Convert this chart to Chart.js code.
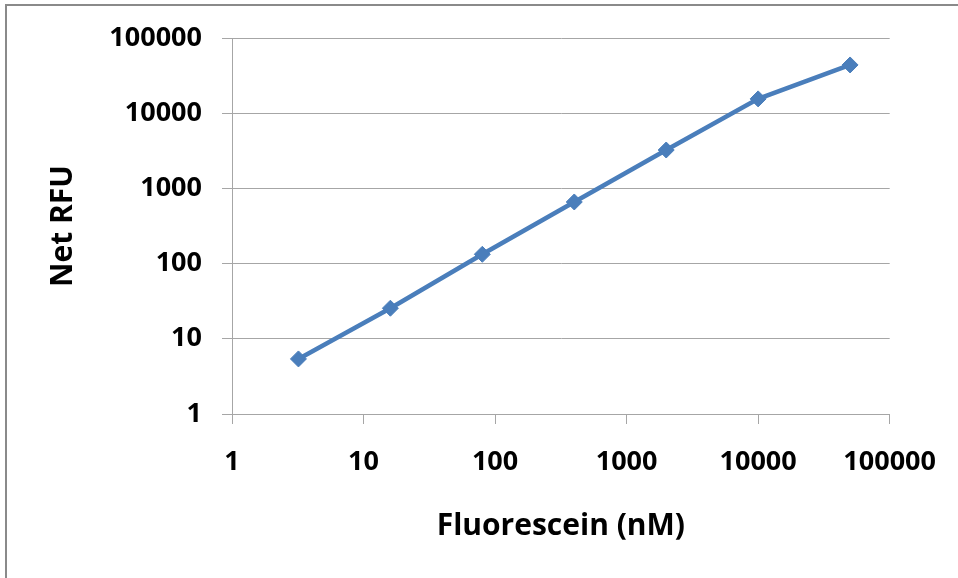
<!DOCTYPE html>
<html>
<head>
<meta charset="utf-8">
<script src="https://cdn.jsdelivr.net/npm/chart.js@4"></script>
<style>
  html, body { margin: 0; padding: 0; background: #fff; overflow: hidden; }
  #frame {
    position: absolute; left: 5px; top: 4px; width: 1000px; height: 620px;
    border-left: 2px solid #8a8a8a; border-top: 2px solid #8a8a8a;
  }
  #myChart { position: absolute; left: 0; top: 0; }
</style>
</head>
<body>
<div id="frame"></div>
<canvas id="myChart" width="958" height="578"></canvas>
<script>
'use strict';

// 5-fold dilution series
const concentrations = [3.2, 16, 80, 400, 2000, 10000, 50000];
const netRFU = [5.4, 25.5, 133, 660, 3240, 15500, 43800];
const xTicks = [1, 10, 100, 1000, 10000, 100000];
const yTicks = [1, 10, 100, 1000, 10000, 100000];

const chartCanvas = document.getElementById('myChart');
const lineBlue = '#4a7ebb';
const gridGray = '#a6a6a6';

function createRfuChart() {
  const points = [];
  for (let i = 0; i < concentrations.length; i++) {
    points.push({ x: concentrations[i], y: netRFU[i] });
  }
  const tickFont = { family: 'Open Sans', size: 27, weight: 'bold' };
  const titleFont = { family: 'Open Sans', size: 30, weight: 'bold' };

  return new Chart(chartCanvas, {
    type: 'line',
    data: {
      datasets: [{
        label: 'Net RFU',
        data: points,
        borderColor: lineBlue,
        backgroundColor: lineBlue,
        borderWidth: 4.5,
        pointStyle: 'rectRot',
        pointRadius: 8,
        pointBorderWidth: 1,
        tension: 0
      }]
    },
    options: {
      responsive: false,
      animation: false,
      layout: { padding: { top: 38, right: 68, left: 0, bottom: 0 } },
      plugins: { legend: { display: false }, tooltip: { enabled: false } },
      scales: {
        x: {
          type: 'logarithmic',
          min: 1,
          max: 100000,
          afterBuildTicks: (axis) => { axis.ticks = xTicks.map(v => ({ value: v })); },
          afterFit: (axis) => { axis.height = 164; },
          grid: { drawOnChartArea: false, drawTicks: true, tickLength: 10, color: gridGray, lineWidth: 1 },
          border: { display: true, color: gridGray, width: 1 },
          ticks: { color: '#000', font: tickFont, padding: 22, maxRotation: 0, autoSkip: false,
            callback: (v) => String(v) },
          title: { display: true, text: 'Fluorescein (nM)', color: '#000', font: titleFont,
            padding: { top: 0, bottom: 34 } }
        },
        y: {
          type: 'logarithmic',
          min: 1,
          max: 100000,
          afterBuildTicks: (axis) => { axis.ticks = yTicks.map(v => ({ value: v })); },
          afterFit: (axis) => { axis.width = 232; },
          grid: { drawOnChartArea: true, drawTicks: true, tickLength: 10, color: gridGray, lineWidth: 1 },
          border: { display: true, color: gridGray, width: 1 },
          ticks: { color: '#000', font: tickFont, padding: 20, autoSkip: false,
            callback: (v) => String(v) },
          title: { display: true, text: 'Net RFU', color: '#000', font: titleFont,
            padding: { top: 45, bottom: 0 } }
        }
      }
    }
  });
}

createRfuChart();
</script>
</body>
</html>
